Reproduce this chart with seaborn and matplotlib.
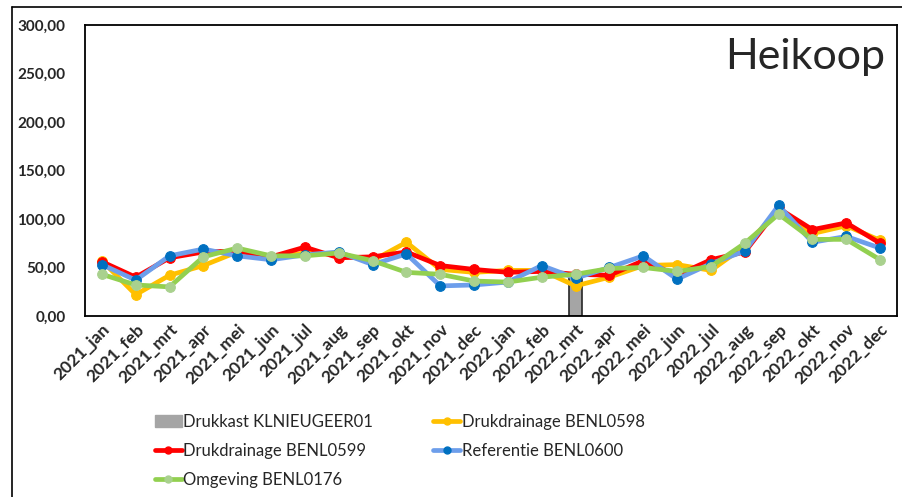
import numpy as np
import pandas as pd
import matplotlib
matplotlib.use('Agg')
import matplotlib.pyplot as plt
from matplotlib.lines import Line2D
from matplotlib.patches import Patch
import seaborn as sns

maanden = ['2021_jan', '2021_feb', '2021_mrt', '2021_apr', '2021_mei', '2021_jun',
           '2021_jul', '2021_aug', '2021_sep', '2021_okt', '2021_nov', '2021_dec',
           '2022_jan', '2022_feb', '2022_mrt', '2022_apr', '2022_mei', '2022_jun',
           '2022_jul', '2022_aug', '2022_sep', '2022_okt', '2022_nov', '2022_dec']

drukkast = [np.nan] * 14 + [44] + [np.nan] * 9
benl0598 = [57, 22, 42, 52, 66, 60, 65, 63, 57, 76, 48, 45,
            47, 47, 31, 40, 52, 53, 47, 72, 109, 85, 93, 78]
benl0599 = [56, 40, 60, 66, 67, 61, 71, 60, 61, 66, 52, 48,
            45, 46, 43, 42, 57, 42, 58, 66, 111, 89, 96, 75]
benl0600 = [53, 37, 62, 69, 62, 58, 63, 66, 53, 64, 31, 32,
            35, 52, 39, 50, 62, 38, 54, 67, 114, 76, 82, 70]
benl0176 = [43, 32, 30, 61, 70, 62, 62, 65, 57, 45, 43, 36,
            35, 40, 43, 49, 50, 46, 51, 75, 105, 79, 79, 58]

series = [
    ('Drukdrainage BENL0598', benl0598, '#FFC000', '#FFC000'),
    ('Drukdrainage BENL0599', benl0599, '#FF0000', '#FF0000'),
    ('Referentie BENL0600', benl0600, '#6D9EEB', '#0070C0'),
    ('Omgeving BENL0176', benl0176, '#92D050', '#A9D18E'),
]

sns.set_style('white')
plt.rcParams['font.family'] = ['Lato', 'DejaVu Sans']

fig = plt.figure(figsize=(9.02, 4.97), dpi=100)
ax = fig.add_axes([0.0942, 0.3642, 0.9003, 0.5855])

sns.barplot(x=maanden, y=drukkast, order=maanden, color='#A5A5A5',
            edgecolor='#262626', linewidth=1.2, width=0.4, saturation=1, ax=ax)

pos = np.arange(len(maanden))
for naam, vals, lijn, punt in series:
    sns.lineplot(x=pos, y=vals, color=lijn, linewidth=3.4, marker='o',
                 markersize=7, markerfacecolor=punt, markeredgecolor=punt,
                 ax=ax, sort=False)

ax.set_xlim(-0.5, len(maanden) - 0.5)
ax.set_ylim(0, 300)
ax.set_yticks(np.arange(0, 301, 50))
ax.set_yticklabels([f'{v:.2f}'.replace('.', ',') for v in np.arange(0, 301, 50)],
                   fontsize=11, fontweight='bold')
ax.set_xticks(pos)
ax.set_xticklabels(maanden, rotation=45, ha='right', rotation_mode='anchor',
                   fontsize=12.5, fontweight='bold')
ax.tick_params(axis='both', length=0)
ax.tick_params(axis='y', pad=14)
ax.tick_params(axis='x', pad=4)
ax.set_xlabel('')
ax.set_ylabel('')
for s in ax.spines.values():
    s.set_visible(True)
    s.set_color('black')
    s.set_linewidth(1.3)

ax.text(0.985, 0.955, 'Heikoop', transform=ax.transAxes, ha='right', va='top',
        fontsize=31)

# rand van het grafiekgebied
fig.add_artist(Line2D([12 / 902, 12 / 902], [0, 1 - 7 / 497], color='black',
                      linewidth=1.2, transform=fig.transFigure))
fig.add_artist(Line2D([12 / 902, 1], [1 - 7 / 497, 1 - 7 / 497], color='black',
                      linewidth=1.2, transform=fig.transFigure))

h_bar = Patch(facecolor='#A5A5A5', edgecolor='#A5A5A5', label='Drukkast KLNIEUGEER01')
h = {naam: Line2D([], [], color=lijn, linewidth=3.4, marker='o', markersize=5,
                  markerfacecolor=punt, markeredgecolor=punt, label=naam)
     for naam, vals, lijn, punt in series}
handles = [h_bar, h['Drukdrainage BENL0599'], h['Omgeving BENL0176'],
           h['Drukdrainage BENL0598'], h['Referentie BENL0600']]
fig.legend(handles=handles, loc='upper left', bbox_to_anchor=(0.172, 0.168),
           ncol=2, frameon=False, fontsize=12, handlelength=1.6,
           handletextpad=0.1, columnspacing=3.6, labelspacing=0.78,
           borderpad=0, borderaxespad=0)

fig.savefig('out.png', dpi=100)
